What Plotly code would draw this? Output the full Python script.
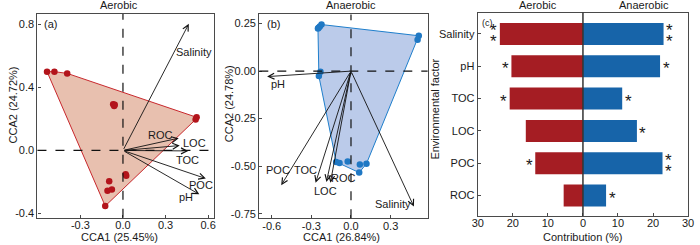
import plotly.graph_objects as go

# ---------------- data ----------------
# Panel (a) Aerobic CCA site scores
aer_x = [-0.535, -0.483, -0.393, -0.069, -0.058, -0.062, 0.519, 0.512, 0.019, 0.023, -0.097, -0.109, -0.078, -0.125]
aer_y = [0.499, 0.499, 0.488, 0.293, 0.290, 0.282, 0.210, 0.196, -0.150, -0.160, -0.195, -0.255, -0.247, -0.352]
# Aerobic environmental vectors (tips) and label positions
aer_vars = ["Salinity", "ROC", "LOC", "TOC", "POC", "pH"]
aer_vx = [0.464, 0.393, 0.400, 0.460, 0.584, 0.538]
aer_vy = [0.802, 0.078, 0.031, -0.003, -0.178, -0.278]
aer_lx = [0.503, 0.261, 0.503, 0.457, 0.549, 0.445]
aer_ly = [0.625, 0.099, 0.046, -0.060, -0.218, -0.296]

# Panel (b) Anaerobic CCA site scores
ana_x = [-0.245, -0.236, -0.223, -0.250, 0.513, 0.504, -0.231, -0.243, -0.112, -0.087, -0.025, 0.067, 0.117, 0.062]
ana_y = [0.228, 0.235, 0.245, 0.224, 0.186, 0.165, -0.003, -0.026, -0.478, -0.483, -0.475, -0.492, -0.487, -0.534]
ana_vars = ["pH", "POC", "TOC", "LOC", "ROC", "Salinity"]
ana_vx = [-0.635, -0.528, -0.268, -0.186, -0.156, 0.476]
ana_vy = [-0.029, -0.600, -0.588, -0.583, -0.588, -0.713]
ana_lx = [-0.553, -0.55, -0.345, -0.193, -0.055, 0.32]
ana_ly = [-0.070, -0.52, -0.522, -0.630, -0.565, -0.700]

# Panel (c) contributions
factors = ["Salinity", "pH", "TOC", "LOC", "POC", "ROC"]
aer_contrib = [23.7, 20.4, 20.9, 16.3, 13.6, 5.5]
ana_contrib = [23.0, 22.0, 11.2, 15.4, 22.7, 6.6]
aer_sig = ["**", "*", "*", "", "*", ""]
ana_sig = ["**", "*", "*", "*", "**", "*"]

# tick labels
a_xt = [-0.3, 0.0, 0.3, 0.6]; a_xtl = ["-0.3", "0.0", "0.3", "0.6"]
a_yt = [-0.4, 0.0, 0.4, 0.8]; a_ytl = ["-0.4", "0.0", "0.4", "0.8"]
b_xt = [-0.6, -0.3, 0.0, 0.3]; b_xtl = ["-0.6", "-0.3", "0.0", "0.3"]
b_yt = [-0.75, -0.5, -0.25, 0.0, 0.25]; b_ytl = ["-0.75", "-0.50", "-0.25", "0.00", "0.25"]
c_xt = [-30, -20, -10, 0, 10, 20, 30]; c_xtl = ["30", "20", "10", "0", "10", "20", "30"]

# ---------------- helpers ----------------
def hull(xs, ys):
    pts = sorted(set(zip(xs, ys)))
    def cross(o, a, b):
        return (a[0]-o[0])*(b[1]-o[1]) - (a[1]-o[1])*(b[0]-o[0])
    lower, upper = [], []
    for p in pts:
        while len(lower) >= 2 and cross(lower[-2], lower[-1], p) <= 0:
            lower.pop()
        lower.append(p)
    for p in reversed(pts):
        while len(upper) >= 2 and cross(upper[-2], upper[-1], p) <= 0:
            upper.pop()
        upper.append(p)
    h = lower[:-1] + upper[:-1]
    h.append(h[0])
    return [p[0] for p in h], [p[1] for p in h]

FONT = "Liberation Sans, Arial, sans-serif"
TXT = "#1a1a1a"
FRAME = "#4a4a4a"
W, H = 700, 245

def px(x):
    return x / W

def py(y):
    return 1 - y / H

fig = go.Figure()

# ---- panel a ----
hx, hy = hull(aer_x, aer_y)
fig.add_trace(go.Scatter(x=hx, y=hy, mode="lines", fill="toself",
                         fillcolor="rgba(214,140,110,0.55)",
                         line=dict(color="#c8282d", width=1), xaxis="x", yaxis="y",
                         hoverinfo="skip"))
fig.add_trace(go.Scatter(x=aer_x, y=aer_y, mode="markers",
                         marker=dict(color="#b3141b", size=6.5), xaxis="x", yaxis="y"))
# ---- panel b ----
hx, hy = hull(ana_x, ana_y)
fig.add_trace(go.Scatter(x=hx, y=hy, mode="lines", fill="toself",
                         fillcolor="rgba(150,175,222,0.65)",
                         line=dict(color="#1f7fcc", width=1), xaxis="x2", yaxis="y2",
                         hoverinfo="skip"))
fig.add_trace(go.Scatter(x=ana_x, y=ana_y, mode="markers",
                         marker=dict(color="#1f78c4", size=6.5), xaxis="x2", yaxis="y2"))
# ---- panel c ----
fig.add_trace(go.Bar(y=factors, x=[-v for v in aer_contrib], orientation="h",
                     marker=dict(color="#a51d23", line=dict(width=0)), width=0.68,
                     xaxis="x3", yaxis="y3"))
fig.add_trace(go.Bar(y=factors, x=ana_contrib, orientation="h",
                     marker=dict(color="#1764a9", line=dict(width=0)), width=0.68,
                     xaxis="x3", yaxis="y3"))

annotations = []
shapes = []

# dashed zero lines
for xr, yr in (("x", "y"), ("x2", "y2")):
    shapes.append(dict(type="line", xref=xr, yref=yr + " domain", x0=0, x1=0, y0=0, y1=1,
                       line=dict(color="#111", width=1.2, dash="dash")))
    shapes.append(dict(type="line", xref=xr + " domain", yref=yr, x0=0, x1=1, y0=0, y1=0,
                       line=dict(color="#111", width=1.2, dash="dash")))
shapes.append(dict(type="line", xref="x3", yref="y3 domain", x0=0, x1=0, y0=0, y1=1,
                   line=dict(color="#333", width=1.5)))

# arrows + labels
for (xr, yr, vx, vy, lx, ly, names) in (("x", "y", aer_vx, aer_vy, aer_lx, aer_ly, aer_vars),
                                        ("x2", "y2", ana_vx, ana_vy, ana_lx, ana_ly, ana_vars)):
    for i, n in enumerate(names):
        annotations.append(dict(xref=xr, yref=yr, axref=xr, ayref=yr, x=vx[i], y=vy[i],
                                ax=0, ay=0, text="", showarrow=True, arrowhead=5,
                                arrowsize=1.3, arrowwidth=0.9, arrowcolor="#111",
                                standoff=0, startstandoff=0))
        annotations.append(dict(xref=xr, yref=yr, x=lx[i], y=ly[i], text=n, showarrow=False,
                                font=dict(family=FONT, size=11, color=TXT)))

# significance stars
for i, f in enumerate(factors):
    for sig, val, sh in ((aer_sig[i], -aer_contrib[i], -6), (ana_sig[i], ana_contrib[i], 6)):
        n = len(sig)
        for k in range(n):
            off = 0 if n == 1 else (5.5 if k == 0 else -5.5)
            annotations.append(dict(xref="x3", yref="y3", x=val, y=f, text="*", showarrow=False,
                                    xshift=sh, yshift=off - 2.5,
                                    font=dict(family=FONT, size=17, color=TXT)))

def txt(x, y, s, size=11, angle=0):
    annotations.append(dict(xref="paper", yref="paper", x=px(x), y=py(y), text=s,
                            showarrow=False, textangle=angle, xanchor="center", yanchor="middle",
                            font=dict(family=FONT, size=size, color=TXT)))

txt(115, 5, "Aerobic")
txt(351, 5, "Anaerobic")
txt(541.7, 5, "Aerobic")
txt(649, 5, "Anaerobic")
txt(115, 239, "CCA1 (25.45%)")
txt(341.7, 239, "CCA1 (26.84%)")
txt(587, 239, "Contribution (%)")
txt(7.5, 106, "CCA2 (24.72%)", angle=-90)
txt(227, 105, "CCA2 (24.78%)", angle=-90)
txt(437, 110, "Environmental factor", angle=-90)
txt(45, 24, "(a)")
txt(271.7, 24, "(b)")
txt(490, 23, "(c)", size=9)

axis_common = dict(showline=True, linecolor=FRAME, linewidth=1.3, mirror=True,
                   ticks="inside", ticklen=3, tickcolor=FRAME, showgrid=False, zeroline=False,
                   tickfont=dict(family=FONT, size=11, color=TXT))
xextra = dict(ticklabelstandoff=-3)

fig.update_layout(
    width=W, height=H, margin=dict(l=0, r=0, t=0, b=0),
    paper_bgcolor="white", plot_bgcolor="white", showlegend=False, barmode="overlay",
    font=dict(family=FONT, size=11, color=TXT),
    xaxis=dict(domain=[px(32), px(211.5)], range=[-0.6025, 0.6406], anchor="y",
               tickvals=a_xt, ticktext=a_xtl, **axis_common, **xextra),
    yaxis=dict(domain=[py(219.5), py(14)], range=[-0.426, 0.865], anchor="x",
               tickvals=a_yt, ticktext=a_ytl, **axis_common),
    xaxis2=dict(domain=[px(257.7), px(429)], range=[-0.694, 0.580], anchor="y2",
                tickvals=b_xt, ticktext=b_xtl, **axis_common, **xextra),
    yaxis2=dict(domain=[py(220), py(14.5)], range=[-0.774, 0.2985], anchor="x2",
                tickvals=b_yt, ticktext=b_ytl, **axis_common),
    xaxis3=dict(domain=[px(480), px(694)], range=[-30, 30], anchor="y3",
                tickvals=c_xt, ticktext=c_xtl, **axis_common, **xextra),
    yaxis3=dict(domain=[py(217.7), py(12.7)], range=[5.63, -0.66], anchor="x3",
                type="category", categoryorder="array", categoryarray=factors, **axis_common),
    annotations=annotations, shapes=shapes,
)

fig.write_html("out.html", config={"displayModeBar": False},
               post_script="document.body.style.margin='0';document.body.style.overflow='hidden';")
